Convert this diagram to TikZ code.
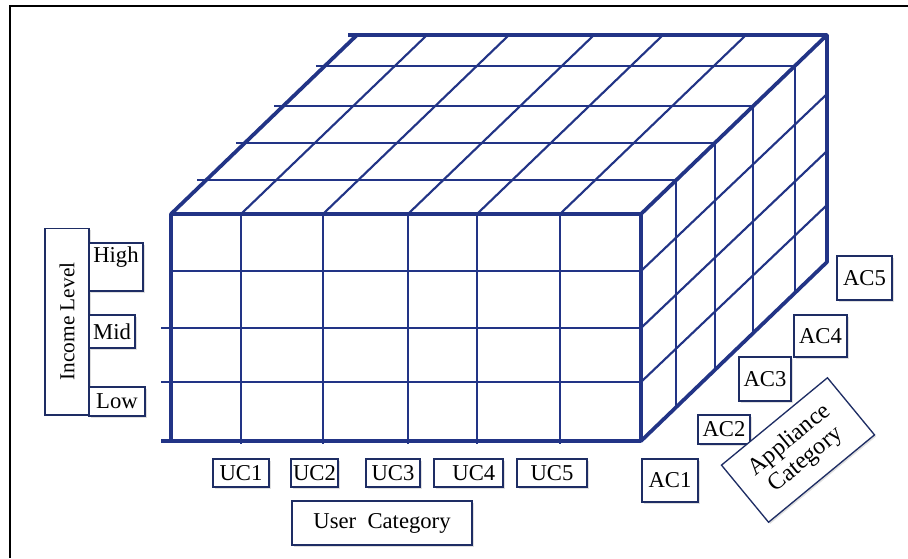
\documentclass[tikz,border=0pt]{standalone}
\usepackage{fontspec}
\setmainfont{Liberation Serif}
\usepackage{tikz}
\usetikzlibrary{shadows}
\definecolor{cubeblue}{RGB}{34,52,134}
\definecolor{boxblue}{RGB}{30,45,100}
\newcommand{\boxfont}{\fontsize{17}{19}\selectfont}
\tikzset{
  frameline/.style={draw=black, line width=2.2pt},
  gridline/.style={draw=cubeblue, line width=1.6pt},
  edgeline/.style={draw=cubeblue, line width=2.8pt, line join=round},
  tagbox/.style={draw=boxblue, line width=1pt, fill=white, inner sep=0pt, align=center, font=\boxfont,
    drop shadow={shadow xshift=1.2pt, shadow yshift=-1.2pt, opacity=0.25}}
}

\begin{document}
\begin{tikzpicture}[x=0.75pt, y=-0.75pt]
  \useasboundingbox (0,0) rectangle (908,558);
  \draw[frameline] (10,558) -- (10,6) -- (908,6);

  \foreach \x in {241,323,408,477,560} {
    \draw[gridline] (\x,214) -- (\x,444);
    \draw[gridline] (\x,214) -- ++(186,-179);
  }
  \foreach \y/\s in {271/171,328/161,382/161} {
    \draw[gridline] (\s,\y) -- (641,\y);
    \draw[gridline] (641,\y) -- ++(186,-177);
  }
  \foreach \t in {0.19,0.397,0.603,0.827} {
    \draw[gridline] ({171+186*\t-9},{214-179*\t}) -- ({641+186*\t},{214-179*\t});
    \draw[gridline] ({641+186*\t},{214-179*\t}) -- ++(0,227);
  }

  \draw[edgeline] (171,214) rectangle (641,441);
  \draw[edgeline] (161,441) -- (171,441);
  \draw[edgeline] (171,214) -- (357,35) -- (827,35) -- (827,262) -- (641,441);
  \draw[edgeline] (641,214) -- (827,35);
  \draw[edgeline] (348,35) -- (357,35);

  \node[tagbox, rotate=90, minimum width=140pt, minimum height=33pt, font=\fontsize{16}{18}\selectfont] (income) at (67,321.5) {Income Level};
  \node[tagbox, minimum width=40.5pt, minimum height=36pt, text depth=18pt] (high) at (116,267) {High};
  \node[tagbox, minimum width=34.5pt, minimum height=24.75pt] (mid) at (112,331.5) {Mid};
  \node[tagbox, minimum width=42pt, minimum height=21.75pt] (low) at (117,401.5) {Low};

  \node[tagbox, minimum width=42pt, minimum height=21pt] (uc1) at (241,473) {UC1};
  \node[tagbox, minimum width=35.25pt, minimum height=21pt] (uc2) at (314.5,473) {UC2};
  \node[tagbox, minimum width=40.5pt, minimum height=21pt] (uc3) at (393,473) {UC3};
  \node[tagbox, minimum width=51.75pt, minimum height=21pt] (uc4) at (468.5,473) {\hspace*{8pt}UC4};
  \node[tagbox, minimum width=52.5pt, minimum height=21pt] (uc5) at (552,473) {UC5};
  \node[tagbox, minimum width=135pt, minimum height=33pt] (usercat) at (382,523) {User\ \ Category};

  \node[tagbox, minimum width=42pt, minimum height=32.25pt] (ac1) at (670,480.5) {AC1};
  \node[tagbox, minimum width=39pt, minimum height=21.75pt] (ac2) at (724,429.5) {AC2};
  \node[tagbox, minimum width=39pt, minimum height=33pt] (ac3) at (765,379) {AC3};
  \node[tagbox, minimum width=39.75pt, minimum height=31.5pt] (ac4) at (820.5,336) {AC4};
  \node[tagbox, minimum width=41.25pt, minimum height=33pt] (ac5) at (864.5,278) {AC5};
  \node[tagbox, rotate=39.5, minimum width=103pt, minimum height=55.5pt, font=\fontsize{18}{19}\selectfont] (appcat) at (798,450) {Appliance\\Category};
\end{tikzpicture}
\end{document}
